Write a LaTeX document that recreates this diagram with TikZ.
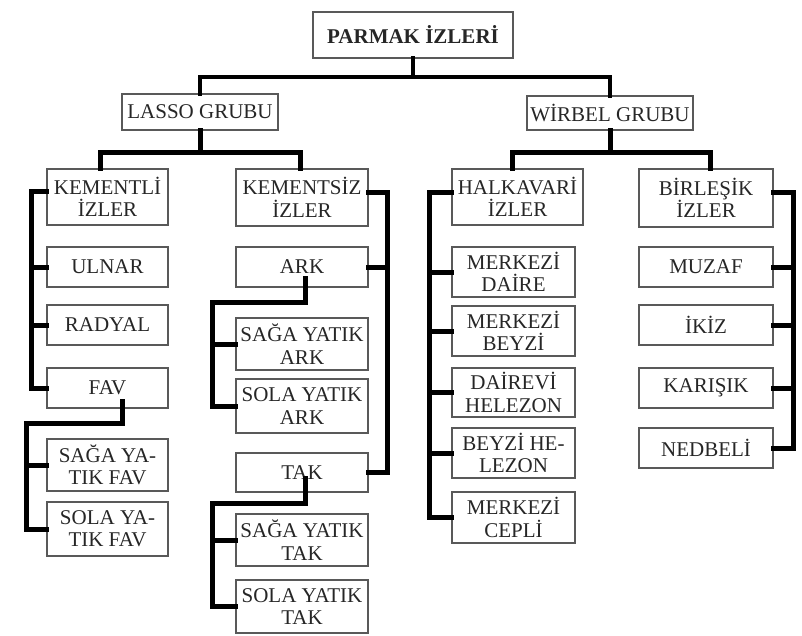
\documentclass[tikz,border=0pt]{standalone}
\usepackage{fontspec}
\setmainfont{Liberation Serif}
\usetikzlibrary{calc}
\newcommand\mybox[6]{\node[bx,minimum width=#4*0.5pt,minimum height=#5*0.5pt] (#1) at (#2,#3) {#6};}
\begin{document}
\begin{tikzpicture}[x=0.5pt,y=-0.5pt,
  bx/.style={draw=black!65, line width=0.6pt, inner sep=0pt, align=center,
    font=\fontsize{10.5}{11.2}\selectfont, text=black!85},
  conn/.style={line width=2.5pt, line join=miter, line cap=rect},
  topconn/.style={line width=2.2pt, line join=miter, line cap=rect}]
\useasboundingbox (0,0) rectangle (802,636);
% boxes
\mybox{top}{413}{35}{200}{46}{\textbf{PARMAK İZLERİ}}
\mybox{lasso}{200}{112}{156}{36}{LASSO GRUBU}
\mybox{wirbel}{610}{113}{166}{34}{WİRBEL GRUBU}
\mybox{kementli}{107.5}{197}{121}{56}{KEMENTLİ\\İZLER}
\mybox{ulnar}{107.5}{267}{121}{40}{ULNAR}
\mybox{radyal}{107.5}{325}{121}{40}{RADYAL}
\mybox{fav}{107.5}{388}{121}{40}{FAV}
\mybox{sagafav}{107.5}{465}{121}{52}{SAĞA YA-\\TIK FAV}
\mybox{solafav}{107.5}{529}{121}{54}{SOLA YA-\\TIK FAV}
\mybox{kementsiz}{302}{197.5}{132}{57}{KEMENTSİZ\\İZLER}
\mybox{ark}{302}{267}{132}{40}{ARK}
\mybox{sagaark}{302}{344}{132}{52}{SAĞA YATIK\\ARK}
\mybox{solaark}{302}{406}{132}{54}{SOLA YATIK\\ARK}
\mybox{tak}{302}{472.5}{132}{39}{TAK}
\mybox{sagatak}{302}{540}{132}{52}{SAĞA YATIK\\TAK}
\mybox{solatak}{302}{606.5}{132}{53}{SOLA YATIK\\TAK}
\mybox{halka}{517.5}{197}{131}{56}{HALKAVARİ\\İZLER}
\mybox{daire}{513.5}{272}{123}{50}{MERKEZİ\\DAİRE}
\mybox{beyzi}{513.5}{331}{123}{50}{MERKEZİ\\BEYZİ}
\mybox{dhel}{513.5}{392.5}{123}{49}{DAİREVİ\\HELEZON}
\mybox{bhel}{513.5}{453}{123}{50}{BEYZİ HE-\\LEZON}
\mybox{cepli}{513.5}{517.5}{123}{51}{MERKEZİ\\CEPLİ}
\mybox{birlesik}{706}{198}{134}{58}{BİRLEŞİK\\İZLER}
\mybox{muzaf}{706}{267}{134}{40}{MUZAF}
\mybox{ikiz}{706}{325}{134}{40}{İKİZ}
\mybox{karisik}{706}{388}{134}{40}{KARIŞIK}
\mybox{nedbeli}{706}{448}{134}{40}{NEDBELİ}
% junction coordinates
\coordinate (t0) at (413,77);
\coordinate (l0) at (100,153);
\coordinate (l1) at (300,153);
\coordinate (w0) at (512,153);
\coordinate (w1) at (710,153);
\coordinate (f1) at (26,423);
\coordinate (k1) at (212,302);
\coordinate (k2) at (212,503);
% top level
\draw[topconn] (top.south) -- (t0);
\draw[topconn] (lasso.north) |- (t0) -| (wirbel.north);
% lasso
\draw[conn] (lasso.south) -- (lasso.south |- l0);
\draw[conn] (kementli.north -| l0) |- (l1) -- (l1 |- kementsiz.north);
% wirbel
\draw[conn] (wirbel.south) -- (wirbel.south |- w0);
\draw[conn] (halka.north -| w0) |- (w1) -- (w1 |- birlesik.north);
% kementli
\draw[conn] ([yshift=2.5pt]kementli.west) -| ($(fav.west)+(-15,0)$) -- (fav.west);
\draw[conn] (ulnar.west) -- ++(-15,0);
\draw[conn] (radyal.west) -- ++(-15,0);
% fav
\draw[conn] ([xshift=7.25pt,yshift=3.5pt]fav.south) |- (f1) |- (solafav.west);
\draw[conn] (sagafav.west) -- (sagafav.west -| f1);
% kementsiz
\draw[conn] ([yshift=2.5pt]kementsiz.east) -| ($(tak.east)+(19,0)$) -- (tak.east);
\draw[conn] (ark.east) -- ++(19,0);
% ark
\draw[conn] ([xshift=1.5pt,yshift=4.5pt]ark.south) |- (k1) |- (solaark.west);
\draw[conn] (sagaark.west) -- (sagaark.west -| k1);
% tak
\draw[conn] ([xshift=1.5pt,yshift=7pt]tak.south) |- (k2) |- (solatak.west);
\draw[conn] (sagatak.west) -- (sagatak.west -| k2);
% halkavari
\draw[conn] ([yshift=2pt]halka.west) -| ($(cepli.west)+(-22,0)$) -- (cepli.west);
\draw[conn] (daire.west) -- ++(-22,0);
\draw[conn] (beyzi.west) -- ++(-22,0);
\draw[conn] (dhel.west) -- ++(-22,0);
\draw[conn] (bhel.west) -- ++(-22,0);
% birlesik
\draw[conn] ([yshift=2.5pt]birlesik.east) -| ($(nedbeli.east)+(20,0)$) -- (nedbeli.east);
\draw[conn] (muzaf.east) -- ++(20,0);
\draw[conn] (ikiz.east) -- ++(20,0);
\draw[conn] (karisik.east) -- ++(20,0);
\end{tikzpicture}
\end{document}
